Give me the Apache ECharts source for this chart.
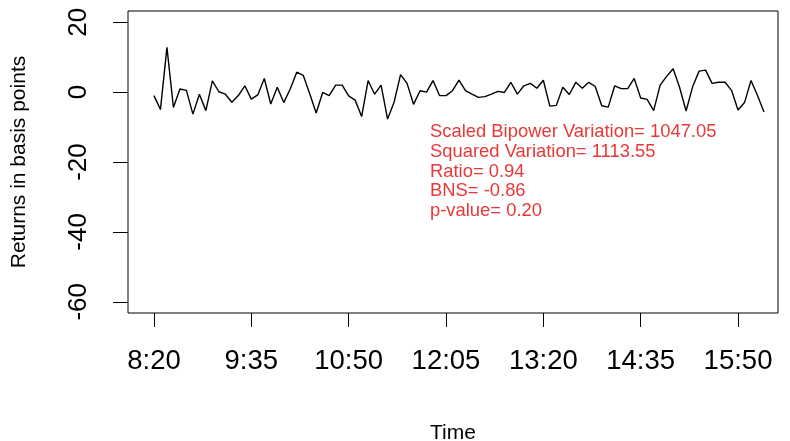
<!DOCTYPE html>
<html>
<head>
<meta charset="utf-8">
<script src="https://cdn.jsdelivr.net/npm/echarts@6/dist/echarts.min.js"></script>
<style>
html,body{margin:0;padding:0;background:#fff;}
#c{width:790px;height:441px;}
</style>
</head>
<body>
<div id="c"></div>
<script>
// Time grid: 5-minute returns starting at 8:20 (minutes since midnight)
const startMinute = 500;
const stepMinutes = 5;
// Returns in basis points
const returnsBp = [
  -1.0, -5.0, 12.8, -4.4, 0.9, 0.5, -6.3, -0.6, -5.3, 3.2,
  0.1, -0.6, -2.9, -1.0, 1.8, -2.0, -0.8, 3.9, -3.4, 1.4,
  -3.0, 0.9, 5.7, 4.8, -0.5, -6.0, -0.1, -1.0, 2.0, 2.0,
  -1.1, -2.3, -7.0, 3.3, -0.6, 2.0, -7.7, -2.9, 5.0, 2.5,
  -3.5, 0.4, 0.0, 3.3, -1.0, -1.0, 0.4, 3.4, 0.4, -0.6,
  -1.5, -1.3, -0.6, 0.2, -0.1, 2.8, -0.6, 1.8, 2.5, 1.1,
  3.4, -4.0, -3.8, 1.4, -0.7, 2.8, 1.1, 2.8, 1.6, -3.9,
  -4.3, 1.8, 1.0, 1.0, 3.9, -1.7, -2.1, -5.3, 2.0, 4.5,
  6.7, 1.3, -5.4, 1.5, 6.0, 6.3, 2.5, 2.8, 2.8, 0.5,
  -5.1, -3.0, 3.3, -1.0, -5.7
];
// Axis ticks
const xTickValues = [500, 575, 650, 725, 800, 875, 950];
const xTickLabels = ['8:20', '9:35', '10:50', '12:05', '13:20', '14:35', '15:50'];
const yTickValues = [-60, -40, -20, 0, 20];
// Annotation lines
const statLines = [
  'Scaled Bipower Variation= 1047.05',
  'Squared Variation= 1113.55',
  'Ratio= 0.94',
  'BNS= -0.86',
  'p-value= 0.20'
];

const seriesData = returnsBp.map((v, i) => [startMinute + i * stepMinutes, v]);
const FONT = "'Liberation Sans', Arial, sans-serif";

const chart = echarts.init(document.getElementById('c'), null, {renderer: 'canvas'});
chart.setOption({
  animation: false,
  backgroundColor: '#fff',
  grid: {
    left: 128, right: 12, top: 11, bottom: 128,
    show: true, borderColor: '#000', borderWidth: 1, backgroundColor: 'transparent',
    containLabel: false,
    outerBoundsMode: 'none'
  },
  xAxis: {
    type: 'value',
    min: 480, max: 980.8,
    name: 'Time',
    nameLocation: 'middle',
    nameGap: 110,
    nameTextStyle: {fontFamily: FONT, fontSize: 21, color: '#000'},
    axisLine: {show: false, onZero: false},
    splitLine: {show: false},
    axisTick: {show: true, length: 14, customValues: xTickValues, lineStyle: {color: '#000', width: 1}},
    axisLabel: {
      customValues: xTickValues,
      margin: 33,
      fontFamily: FONT, fontSize: 27.5, color: '#000', lineHeight: 30,
      formatter: function (v) {
        const k = xTickValues.indexOf(v);
        return k >= 0 ? xTickLabels[k] : '';
      }
    }
  },
  yAxis: {
    type: 'value',
    min: -63.2, max: 23.2,
    name: 'Returns in basis points',
    nameLocation: 'middle',
    nameRotate: 90,
    nameGap: 98,
    nameTextStyle: {fontFamily: FONT, fontSize: 21, color: '#000'},
    axisLine: {show: false, onZero: false},
    splitLine: {show: false},
    axisTick: {show: true, length: 15, customValues: yTickValues, lineStyle: {color: '#000', width: 1}},
    axisLabel: {
      customValues: yTickValues,
      rotate: 90,
      margin: 34,
      fontFamily: FONT, fontSize: 26, color: '#000', lineHeight: 30
    }
  },
  series: [{
    type: 'line',
    data: seriesData,
    showSymbol: false,
    symbol: 'none',
    lineStyle: {color: '#000', width: 1.4},
    silent: true
  }],
  graphic: [{
    type: 'text',
    left: 430,
    top: 122,
    style: {
      text: statLines.join('\n'),
      fill: '#e83838',
      fontFamily: FONT,
      fontSize: 18.4,
      lineHeight: 19.8
    }
  }]
});
</script>
</body>
</html>
